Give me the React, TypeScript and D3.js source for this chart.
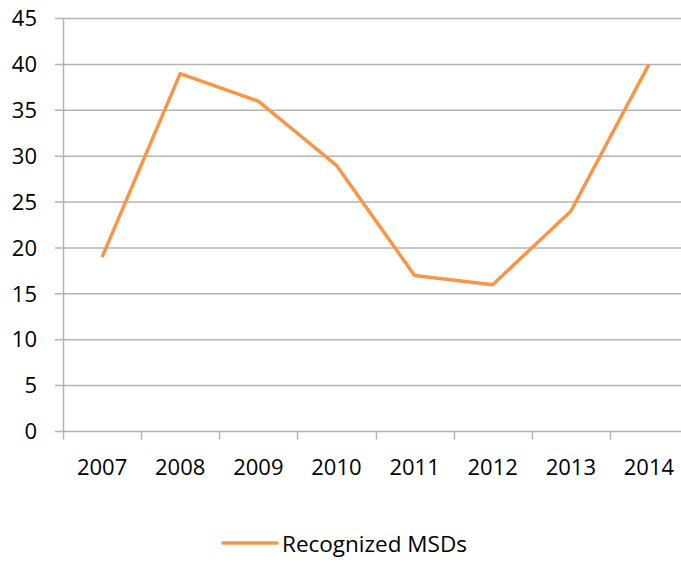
import React, {useEffect, useRef} from "react";
import * as d3 from "d3";

const years = ["2007", "2008", "2009", "2010", "2011", "2012", "2013", "2014"];
const msds = [19, 39, 36, 29, 17, 16, 24, 40];
const yTicks = [0, 5, 10, 15, 20, 25, 30, 35, 40, 45];
const seriesName = "Recognized MSDs";

const width = 681;
const height = 563;
const font = "'Open Sans', sans-serif";
const orange = "#F79646";
const grid = "#B3B3B3";

const App = () => {
    const ref = useRef<SVGSVGElement>(null);

    useEffect(() => {
        const svg = d3.select(ref.current);
        svg.selectAll("*").remove();

        const x = d3.scaleBand().domain(years).range([63, 688]);
        const y = d3.scaleLinear().domain([0, 45]).range([431.5, 18.5]);

        // gridlines
        svg.append("g")
            .selectAll("line")
            .data(yTicks)
            .join("line")
            .attr("x1", 55)
            .attr("x2", width)
            .attr("y1", d => y(d))
            .attr("y2", d => y(d))
            .attr("stroke", grid)
            .attr("stroke-width", 1.5);

        // y axis line
        svg.append("line")
            .attr("x1", 63.5).attr("x2", 63.5)
            .attr("y1", y(45)).attr("y2", y(0) + 8)
            .attr("stroke", grid).attr("stroke-width", 1.5);

        // x ticks
        svg.append("g")
            .selectAll("line")
            .data(years.slice(1))
            .join("line")
            .attr("x1", d => Math.round(x(d)!) + 0.5)
            .attr("x2", d => Math.round(x(d)!) + 0.5)
            .attr("y1", y(0))
            .attr("y2", y(0) + 8)
            .attr("stroke", grid)
            .attr("stroke-width", 1.5);

        // y labels
        svg.append("g")
            .selectAll("text")
            .data(yTicks)
            .join("text")
            .attr("x", 37)
            .attr("y", d => y(d))
            .attr("dy", "0.35em")
            .attr("text-anchor", "end")
            .attr("font-family", font)
            .attr("font-size", 22)
            .attr("fill", "#000")
            .text(d => d);

        // x labels
        svg.append("g")
            .selectAll("text")
            .data(years)
            .join("text")
            .attr("x", d => x(d)! + x.bandwidth() / 2)
            .attr("y", 475)
            .attr("text-anchor", "middle")
            .attr("font-family", font)
            .attr("font-size", 22)
            .attr("fill", "#000")
            .text(d => d);

        const line = d3.line<number>()
            .x((d, i) => x(years[i])! + x.bandwidth() / 2)
            .y(d => y(d));

        svg.append("path")
            .datum(msds)
            .attr("d", line)
            .attr("fill", "none")
            .attr("stroke", orange)
            .attr("stroke-width", 3.5)
            .attr("stroke-linejoin", "round");

        // legend
        svg.append("line")
            .attr("x1", 223).attr("x2", 277)
            .attr("y1", 543).attr("y2", 543)
            .attr("stroke", orange).attr("stroke-width", 3.5)
            .attr("stroke-linecap", "round");
        svg.append("text")
            .attr("x", 282)
            .attr("y", 552)
            .attr("font-family", font)
            .attr("font-size", 22.5)
            .attr("fill", "#000")
            .text(seriesName);
    }, []);

    return (
        <svg
            ref={ref}
            width={width}
            height={height}
            viewBox={`0 0 ${width} ${height}`}
            style={{position: "absolute", left: 0, top: 0, background: "#fff"}}
        />
    );
};

export default App;
